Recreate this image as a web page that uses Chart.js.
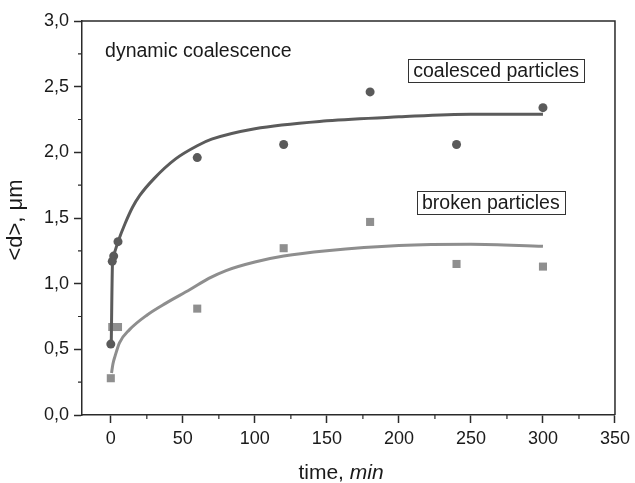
<!DOCTYPE html>
<html>
<head>
<meta charset="utf-8">
<script src="https://cdn.jsdelivr.net/npm/chart.js@4.4.0/dist/chart.umd.min.js"></script>
<style>
  html, body { margin: 0; padding: 0; background: #fff; }
</style>
</head>
<body>
<canvas id="c" width="635" height="483"></canvas>
<script>
// measured points
const timeCoal = [0, 1, 2, 5, 60, 120, 180, 240, 300];
const dCoal = [0.54, 1.17, 1.21, 1.32, 1.96, 2.06, 2.46, 2.06, 2.34];
const timeBroken = [0, 1, 5, 60, 120, 180, 240, 300];
const dBroken = [0.28, 0.67, 0.67, 0.81, 1.27, 1.47, 1.15, 1.13];

// fitted curves
const fitCoalT = [0.3, 1.2, 2, 5, 10, 15, 20, 30, 45, 60, 70, 100, 150, 200, 250, 300];
const fitCoalD = [0.54, 1.17, 1.22, 1.32, 1.46, 1.58, 1.67, 1.80, 1.95, 2.05, 2.10, 2.18, 2.24, 2.27, 2.29, 2.29];
const fitBrokenT = [0.5, 1.5, 3, 6, 13, 25, 38, 55, 68, 80, 100, 120, 150, 200, 250, 300];
const fitBrokenD = [0.32, 0.39, 0.45, 0.55, 0.65, 0.76, 0.85, 0.955, 1.04, 1.10, 1.165, 1.21, 1.25, 1.29, 1.30, 1.285];

const xTicks = [0, 50, 100, 150, 200, 250, 300, 350];
const xMinor = [25, 75, 125, 175, 225, 275, 325];
const yTicks = [0, 0.5, 1.0, 1.5, 2.0, 2.5, 3.0];
const yMinor = [0.25, 0.75, 1.25, 1.75, 2.25, 2.75];

const pts = (xs, ys) => xs.map((x, i) => ({ x: x, y: ys[i] }));
const FONT = '"Liberation Sans", Arial, sans-serif';
const AXIS = '#2a2a2a';

const extras = {
  id: 'extras',
  afterDraw(chart) {
    const { ctx, chartArea: a, scales: { x, y } } = chart;
    ctx.save();
    // top & right frame
    ctx.strokeStyle = AXIS;
    ctx.lineWidth = 1.5;
    ctx.beginPath();
    ctx.moveTo(a.left, a.top);
    ctx.lineTo(a.right, a.top);
    ctx.lineTo(a.right, a.bottom);
    ctx.stroke();
    // minor ticks
    ctx.lineWidth = 1.2;
    ctx.beginPath();
    xMinor.forEach(v => {
      const px = x.getPixelForValue(v);
      ctx.moveTo(px, a.bottom);
      ctx.lineTo(px, a.bottom + 4);
    });
    yMinor.forEach(v => {
      const py = y.getPixelForValue(v);
      ctx.moveTo(a.left, py);
      ctx.lineTo(a.left - 4, py);
    });
    ctx.stroke();

    // annotations
    ctx.fillStyle = '#1a1a1a';
    ctx.font = '19.5px ' + FONT;
    ctx.textBaseline = 'middle';
    ctx.textAlign = 'left';
    ctx.fillText('dynamic coalescence', x.getPixelForValue(-4), y.getPixelForValue(2.77));

    const boxed = (txt, tx, ty) => {
      const cx = x.getPixelForValue(tx), cy = y.getPixelForValue(ty);
      const w = ctx.measureText(txt).width + 10;
      ctx.textAlign = 'center';
      ctx.fillText(txt, cx, cy + 1);
      ctx.lineWidth = 1;
      ctx.strokeStyle = '#333';
      ctx.strokeRect(Math.round(cx - w / 2) + 0.5, Math.round(cy - 11.5) + 0.5, Math.round(w), 23);
    };
    boxed('coalesced particles', 267.5, 2.62);
    boxed('broken particles', 263.8, 1.615);

    // x title with italic unit
    ctx.textAlign = 'left';
    ctx.textBaseline = 'alphabetic';
    const t1 = 'time, ';
    ctx.font = 'italic 21px ' + FONT;
    const w2 = ctx.measureText('min').width;
    ctx.font = '21px ' + FONT;
    const w1 = ctx.measureText(t1).width;
    const x0 = 341 - (w1 + w2) / 2;
    ctx.fillText(t1, x0, 479);
    ctx.font = 'italic 21px ' + FONT;
    ctx.fillText('min', x0 + w1, 479);

    // y title
    ctx.translate(16, (a.top + a.bottom) / 2 + 2);
    ctx.rotate(-Math.PI / 2);
    ctx.font = '22px ' + FONT;
    ctx.textAlign = 'center';
    ctx.textBaseline = 'middle';
    ctx.fillText('<d>, \u03bcm', 0, 0);
    ctx.restore();
  }
};

new Chart(document.getElementById('c'), {
  type: 'scatter',
  data: {
    datasets: [
      {
        type: 'line', data: pts(fitCoalT, fitCoalD),
        borderColor: '#5b5b5b', borderWidth: 3, pointRadius: 0,
        cubicInterpolationMode: 'monotone', fill: false
      },
      {
        type: 'line', data: pts(fitBrokenT, fitBrokenD),
        borderColor: '#8e8e8e', borderWidth: 3, pointRadius: 0,
        cubicInterpolationMode: 'monotone', fill: false
      },
      {
        label: 'coalesced particles', data: pts(timeCoal, dCoal),
        pointStyle: 'circle', pointRadius: 4.5,
        backgroundColor: '#5a5a5a', borderColor: '#5a5a5a', borderWidth: 0
      },
      {
        label: 'broken particles', data: pts(timeBroken, dBroken),
        pointStyle: 'rect', pointRadius: 5.7,
        backgroundColor: '#8f8f8f', borderColor: '#8f8f8f', borderWidth: 0
      }
    ]
  },
  options: {
    responsive: false,
    animation: false,
    layout: { padding: { left: 0, top: 21, right: 16, bottom: 0 } },
    plugins: { legend: { display: false }, tooltip: { enabled: false } },
    scales: {
      x: {
        type: 'linear', min: -20, max: 350,
        afterBuildTicks: s => { s.ticks = xTicks.map(v => ({ value: v })); },
        afterFit: s => { s.height = 68; },
        grid: { drawOnChartArea: false, tickLength: 8, tickColor: AXIS, tickWidth: 1.5 },
        border: { display: true, color: AXIS, width: 1.5 },
        ticks: { color: '#1a1a1a', font: { size: 18, family: FONT }, padding: 5, maxRotation: 0 }
      },
      y: {
        type: 'linear', min: 0, max: 3,
        afterBuildTicks: s => { s.ticks = yTicks.map(v => ({ value: v })); },
        afterFit: s => { s.width = 82; },
        grid: { drawOnChartArea: false, tickLength: 8, tickColor: AXIS, tickWidth: 1.5 },
        border: { display: true, color: AXIS, width: 1.5 },
        ticks: {
          color: '#1a1a1a', font: { size: 18, family: FONT }, padding: 5,
          callback: v => v.toFixed(1).replace('.', ',')
        }
      }
    }
  },
  plugins: [extras]
});
</script>
</body>
</html>
